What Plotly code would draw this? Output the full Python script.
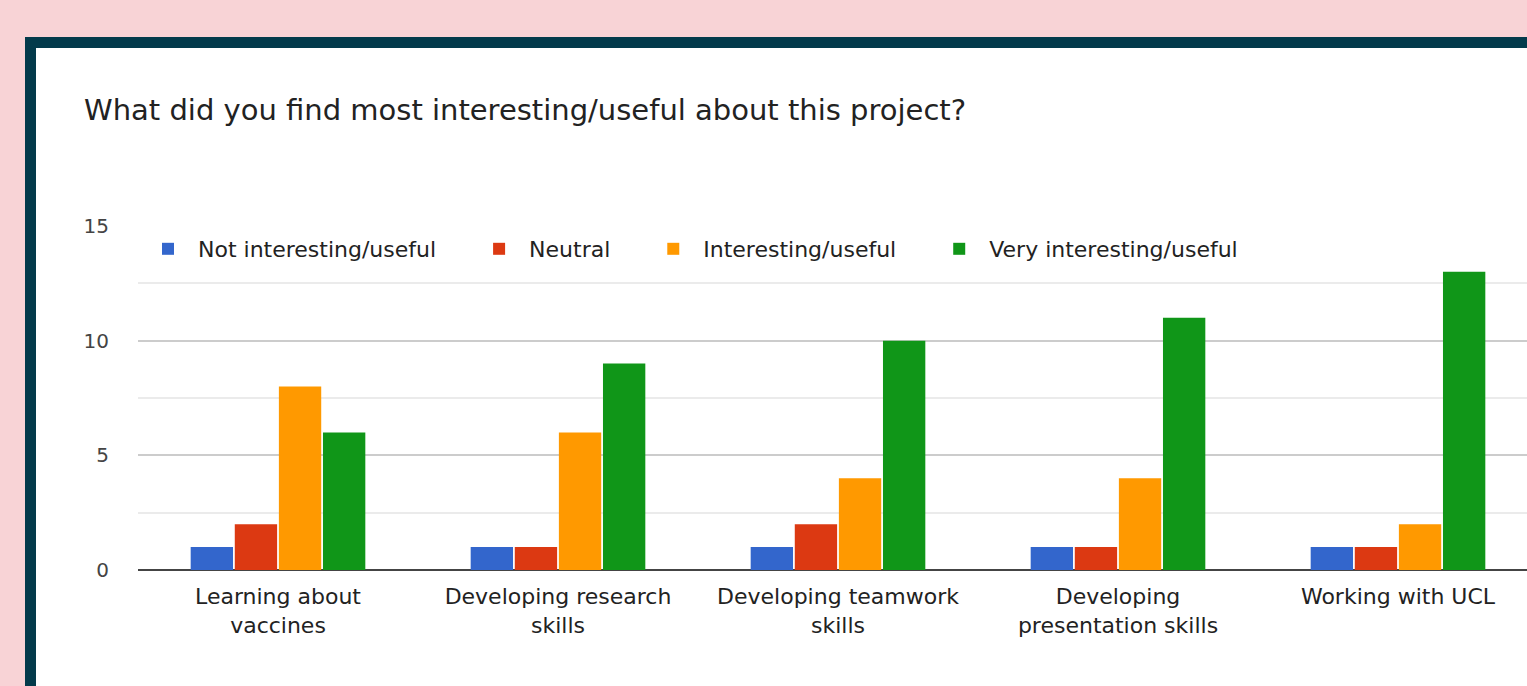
import plotly.graph_objects as go

categories = ["Learning about<br>vaccines", "Developing research<br>skills",
              "Developing teamwork<br>skills", "Developing<br>presentation skills",
              "Working with UCL"]
series_names = ["Not interesting/useful", "Neutral", "Interesting/useful",
                "Very interesting/useful"]
not_interesting = [1, 1, 1, 1, 1]
neutral = [2, 1, 2, 1, 1]
interesting = [8, 6, 4, 4, 2]
very_interesting = [6, 9, 10, 11, 13]
series_values = [not_interesting, neutral, interesting, very_interesting]
colors = ["#3366cc", "#dc3912", "#ff9900", "#109618"]
y_ticks = [0, 5, 10, 15]

W, H = 1527, 686
ML, MR, MT, MB = 138, 0, 226, 116
pw = W - ML - MR
ph = H - MT - MB

def px_x(p):
    return (p - ML) / pw

def px_y(p):
    return (H - MB - p) / ph

fig = go.Figure()
pad = "\u00a0" * 4
for name, vals, col in zip(series_names, series_values, colors):
    fig.add_trace(go.Bar(name=name + pad, x=categories, y=vals, marker_color=col,
                         marker_line_width=0))

font = "DejaVu Sans"
fig.update_layout(
    width=W, height=H,
    margin=dict(l=ML, r=MR, t=MT, b=MB, autoexpand=False),
    paper_bgcolor="#f8d3d6",
    plot_bgcolor="rgba(0,0,0,0)",
    barmode="group", bargap=0.37, bargroupgap=0.04,
    font=dict(family=font, color="#222222"),
    title=dict(text="What did you find most interesting/useful about this project?",
               xref="container", yref="container", x=84 / W, xanchor="left",
               y=1 - 110 / H, yanchor="middle",
               font=dict(size=29, color="#222222", family=font)),
    legend=dict(orientation="h", x=0, xanchor="left", y=px_y(249),
                yanchor="middle", font=dict(size=22, color="#222222"),
                bgcolor="rgba(0,0,0,0)", itemwidth=50, traceorder="normal"),
    showlegend=True,
    shapes=[dict(type="rect", xref="paper", yref="paper", layer="below",
                 x0=px_x(30.5), x1=px_x(1600), y0=px_y(750), y1=px_y(42.5),
                 line=dict(color="#033a4b", width=11), fillcolor="white")],
)
fig.update_xaxes(range=[-0.5, -0.5 + pw / 280], showgrid=False, showline=False,
                 ticks="", tickfont=dict(size=22, color="#222222"), fixedrange=True,
                 ticklabelstandoff=11)
fig.update_yaxes(range=[0, 15], tickvals=y_ticks, showgrid=True, gridcolor="#cccccc",
                 gridwidth=1.5, zeroline=True, zerolinecolor="#444444", zerolinewidth=1.5,
                 tickfont=dict(size=20, color="#444444"), ticks="", ticklabelstandoff=28,
                 minor=dict(dtick=2.5, showgrid=True, gridcolor="#ebebeb", gridwidth=1.5))

fig.write_html("out.html", config={"displayModeBar": False},
               post_script="document.body.style.margin='0';"
                           "document.body.style.overflow='hidden';")
